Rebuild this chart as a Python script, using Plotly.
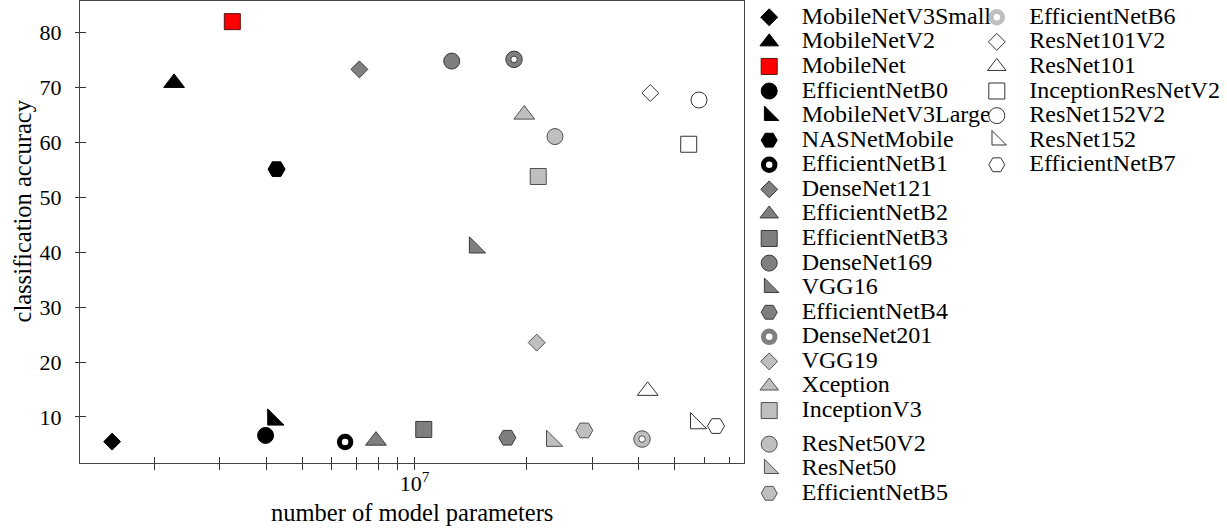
import plotly.graph_objects as go

# ---------------- data ----------------
models = ["MobileNetV3Small", "MobileNetV2", "MobileNet", "EfficientNetB0", "MobileNetV3Large",
          "NASNetMobile", "EfficientNetB1", "DenseNet121", "EfficientNetB2", "EfficientNetB3",
          "DenseNet169", "VGG16", "EfficientNetB4", "DenseNet201", "VGG19", "Xception",
          "InceptionV3", "ResNet50V2", "ResNet50", "EfficientNetB5", "EfficientNetB6",
          "ResNet101V2", "ResNet101", "InceptionResNetV2", "ResNet152V2", "ResNet152",
          "EfficientNetB7"]
params = [1.54e6, 2.26e6, 3.24e6, 3.98e6, 4.17e6, 4.26e6, 6.51e6, 7.11e6, 7.88e6, 1.059e7,
          1.259e7, 1.452e7, 1.776e7, 1.851e7, 2.13e7, 1.972e7, 2.15e7, 2.385e7, 2.34e7, 2.859e7,
          4.086e7, 4.301e7, 4.232e7, 5.455e7, 5.813e7, 5.702e7, 6.457e7]
accuracy = [5.51, 70.84, 82.0, 6.64, 9.51, 55.13, 5.44, 73.31, 5.69, 7.73,
            74.82, 40.85, 6.22, 75.13, 23.55, 65.07, 53.8, 61.07, 5.64, 7.55,
            5.98, 69.0, 14.76, 59.67, 67.73, 8.84, 8.35]

x_major_tick_values = [1e7]
x_major_tick_text = ["10<sup>7</sup>"]
x_minor_tick_values = [2e6, 3e6, 4e6, 5e6, 6e6, 7e6, 8e6, 9e6, 2e7, 3e7, 4e7, 5e7]
x_inner_tick_values = [2e6, 3e6, 4e6, 5e6, 6e6, 7e6, 8e6, 9e6, 1e7, 2e7, 3e7, 4e7, 5e7, 6e7, 7e7]
y_tick_values = [10, 20, 30, 40, 50, 60, 70, 80]

# ---------------- styles ----------------
shape_cycle = ["diamond", "triangle", "square", "circle", "rtri", "hex", "ring"]
shape_symbol = {"diamond": "diamond", "triangle": "triangle-up", "square": "square",
                "circle": "circle", "rtri": "triangle-sw", "hex": "hexagon2", "ring": "circle"}
shape_size = {"diamond": 13, "triangle": 18, "square": 16, "circle": 16, "rtri": 18,
              "hex": 17, "ring": 11.5}
fill_cycle = ["#000000", "#7f7f7f", "#bfbfbf", "#ffffff"]
edge_cycle = ["#000000", "#3a3a3a", "#505050", "#333333"]
special_fill = {"MobileNet": ("#ff0000", "#5a1010")}

FONT = "Liberation Serif"
X_RANGE = [6.1013, 7.8853]
Y_RANGE = [1.62, 85.76]
fig = go.Figure()

for i, name in enumerate(models):
    shape = shape_cycle[i % 7]
    fill = fill_cycle[i // 7]
    edge = edge_cycle[i // 7]
    if name in special_fill:
        fill, edge = special_fill[name]
    legend_id = "legend" if i < 20 else "legend2"
    group = "g1" if i < 17 else ("g2" if i < 20 else "g3")
    if shape == "ring":
        marker = dict(symbol="circle", size=shape_size[shape], color="#ffffff",
                      line=dict(color=fill, width=5))
    else:
        marker = dict(symbol=shape_symbol[shape], size=shape_size[shape], color=fill,
                      line=dict(color=edge, width=1))
    fig.add_trace(go.Scatter(
        x=[params[i]], y=[accuracy[i]], mode="markers", marker=marker,
        name='<span style="font-size:24px">' + name + '</span>',
        legend=legend_id, legendgroup=group, hoverinfo="x+y+name"))
    if shape == "ring" and fill != "#000000":
        # thin outlines of the gray rings, drawn on the overlay axes (same ranges)
        for sz in (16.5, 6.5):
            fig.add_trace(go.Scatter(
                x=[params[i]], y=[accuracy[i]], mode="markers", xaxis="x2", yaxis="y2",
                marker=dict(symbol="circle-open", size=sz, color=edge,
                            line=dict(color=edge, width=1)),
                showlegend=False, legend=legend_id, legendgroup=group, hoverinfo="skip"))

axis_font = dict(family=FONT, size=22, color="black")
title_font = dict(family=FONT, size=24.5, color="black")

fig.update_layout(
    width=1227, height=531,
    margin=dict(l=80, r=483, t=1, b=68, autoexpand=False),
    paper_bgcolor="white", plot_bgcolor="white",
    font=dict(family=FONT, color="black"),
    showlegend=True,
    xaxis=dict(type="log", range=X_RANGE, tickmode="array",
               tickvals=x_major_tick_values, ticktext=x_major_tick_text,
               ticks="outside", ticklen=6, tickwidth=1, tickcolor="#333",
               minor=dict(tickmode="array", tickvals=x_minor_tick_values, ticks="outside",
                          ticklen=6, tickwidth=1, tickcolor="#333", showgrid=False),
               showline=True, linecolor="#444", linewidth=1, mirror=True,
               showgrid=False, zeroline=False, tickfont=axis_font,
               ticklabelstandoff=-5, automargin=False),
    yaxis=dict(range=Y_RANGE, tickmode="array", tickvals=y_tick_values,
               ticks="outside", ticklen=4, tickwidth=1, tickcolor="#333",
               showline=True, linecolor="#444", linewidth=1, mirror=True,
               showgrid=False, zeroline=False, tickfont=axis_font,
               ticklabelstandoff=9, automargin=False),
    xaxis2=dict(type="log", range=X_RANGE, overlaying="x", anchor="y2",
                tickmode="array", tickvals=x_inner_tick_values, ticks="inside", ticklen=6,
                tickcolor="#333", showticklabels=False, showline=False, showgrid=False,
                zeroline=False, side="bottom", automargin=False),
    yaxis2=dict(range=Y_RANGE, overlaying="y", anchor="x2", tickmode="array",
                tickvals=y_tick_values, ticks="inside", ticklen=6, tickcolor="#333",
                showticklabels=False, showline=False, showgrid=False, zeroline=False,
                side="left", automargin=False),
    legend=dict(x=736.7 / 1227, y=1.0, xref="container", yref="container",
                xanchor="left", yanchor="top", itemwidth=55, tracegroupgap=9,
                maxheight=700,
                font=dict(family=FONT, size=16.6, color="black"),
                bgcolor="rgba(0,0,0,0)", borderwidth=0),
    legend2=dict(x=964.3 / 1227, y=1.0, xref="container", yref="container",
                 xanchor="left", yanchor="top", itemwidth=55, tracegroupgap=9,
                 maxheight=700,
                 font=dict(family=FONT, size=16.6, color="black"),
                 bgcolor="rgba(0,0,0,0)", borderwidth=0),
    annotations=[
        dict(text="classification accuracy", xref="paper", yref="paper",
             x=-0.0866, y=0.5455, xanchor="center", yanchor="middle",
             textangle=-90, showarrow=False, font=title_font),
        dict(text="number of model parameters", xref="paper", yref="paper",
             x=0.5, y=-0.1082, xanchor="center", yanchor="middle",
             showarrow=False, font=title_font),
    ],
)

# remove the default 8px page margin so the figure starts at the window corner
fig.write_html("out.html", config={"displayModeBar": False},
               post_script="document.body.style.margin='0px';")
